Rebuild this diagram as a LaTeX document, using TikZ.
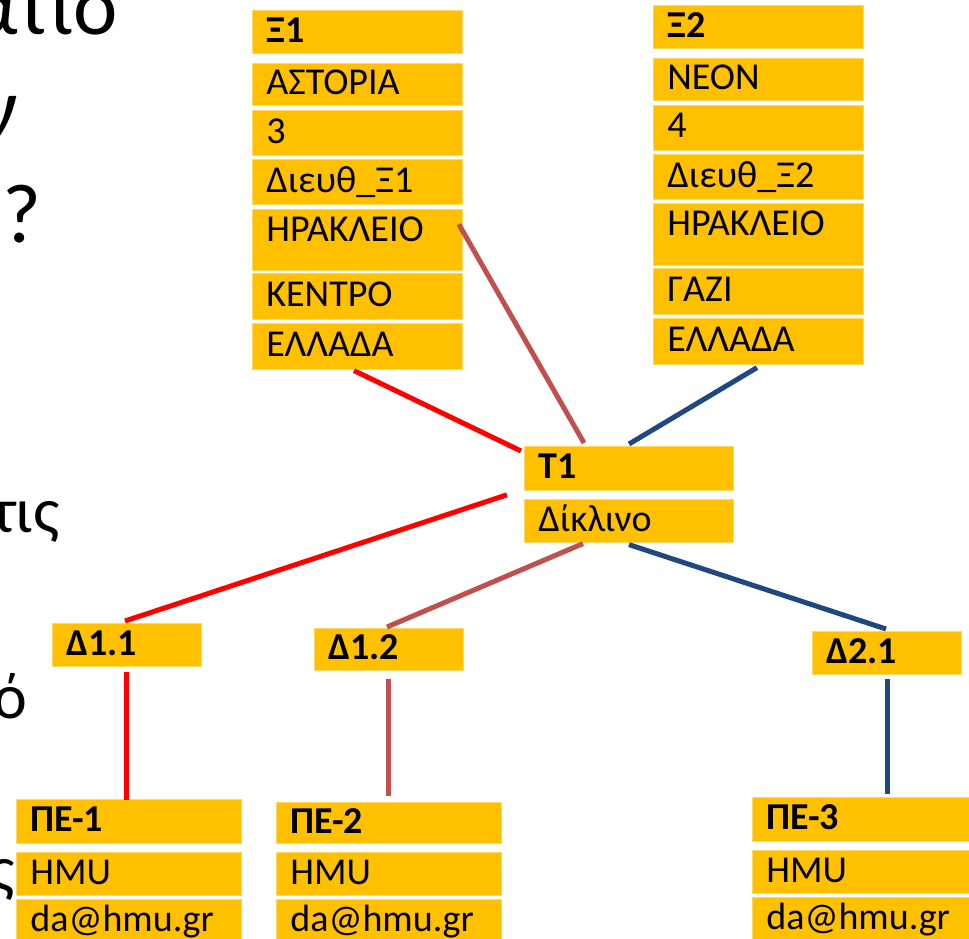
\documentclass[tikz,border=0pt]{standalone}
\usepackage{fontspec}
\setmainfont{Carlito}
\usepackage{tikz}
\usetikzlibrary{positioning,calc}
\definecolor{boxgold}{HTML}{FFC000}
\definecolor{boxedge}{HTML}{FFD966}
\definecolor{lred}{HTML}{FF0000}
\definecolor{lbrown}{HTML}{C0504D}
\definecolor{lblue}{HTML}{1F497D}

\begin{document}
\begin{tikzpicture}[x=1pt, y=-1pt,
    cell/.style={rectangle, draw=boxedge, line width=0.8pt, fill=boxgold, anchor=north west,
      inner xsep=14pt, inner ysep=0pt, minimum height=43pt, text height=27pt, text depth=6pt,
      align=left, text width=#1, font=\fontsize{38}{42}\selectfont},
    cell/.default=182pt,
    link/.style={line width=5pt},
    side/.style={anchor=base east, inner sep=0pt, font=\fontsize{84}{90}\selectfont},
  ]
  \useasboundingbox (0,0) rectangle (969,939);
  \clip (0,0) rectangle (969,939);

  % Slide text cut at the edge
  \node[side] (s1) at (118,35) {ατιο};
  \node[side] (s2) at (18,137) {ν};
  \node[side] (s3) at (42,242) {?};
  \node[side, font=\fontsize{64}{70}\selectfont] (s4) at (60,532) {τις};
  \node[side, font=\fontsize{64}{70}\selectfont] (s5) at (27,718) {ό};
  \node[side, font=\fontsize{64}{70}\selectfont] (s6) at (15,890) {ς};

  % Cells
  \node[cell] (xi1-1) at (252,10) {\textbf{Ξ1}};
  \node[cell, minimum height=42pt] (xi1-2) [below=9pt of xi1-1] {ΑΣΤΟΡΙΑ};
  \node[cell, minimum height=45pt] (xi1-3) [below=4pt of xi1-2] {3};
  \node[cell, minimum height=45pt] (xi1-4) [below=4pt of xi1-3] {Διευθ\_Ξ1};
  \node[cell, minimum height=61pt, text depth=24pt] (xi1-5) [below=4pt of xi1-4] {ΗΡΑΚΛΕΙΟ};
  \node[cell, minimum height=46pt] (xi1-6) [below=2pt of xi1-5] {ΚΕΝΤΡΟ};
  \node[cell, minimum height=46pt] (xi1-7) [below=3pt of xi1-6] {ΕΛΛΑΔΑ};

  \node[cell] (xi2-1) at (653,5) {\textbf{Ξ2}};
  \node[cell, minimum height=42pt] (xi2-2) [below=9pt of xi2-1] {ΝΕΟΝ};
  \node[cell, minimum height=45pt] (xi2-3) [below=4pt of xi2-2] {4};
  \node[cell, minimum height=45pt] (xi2-4) [below=4pt of xi2-3] {Διευθ\_Ξ2};
  \node[cell, minimum height=62pt, text depth=25pt] (xi2-5) [below=3pt of xi2-4] {ΗΡΑΚΛΕΙΟ};
  \node[cell, minimum height=46pt] (xi2-6) [below=2pt of xi2-5] {ΓΑΖΙ};
  \node[cell, minimum height=46pt] (xi2-7) [below=3pt of xi2-6] {ΕΛΛΑΔΑ};

  \node[cell=181pt, minimum height=44pt] (t1-1) at (524,446) {\textbf{T1}};
  \node[cell=181pt] (t1-2) [below=8pt of t1-1] {Δίκλινο};

  \node[cell=121pt] (d11) at (52,623) {\textbf{Δ1.1}};
  \node[cell=121pt, minimum height=42pt] (d12) at (314,628) {\textbf{Δ1.2}};
  \node[cell=121pt] (d21) at (812,631) {\textbf{Δ2.1}};

  \node[cell=197pt, minimum height=44pt] (pe1-1) at (16,799) {\textbf{ΠΕ-1}};
  \node[cell=197pt] (pe1-2) [below=8pt of pe1-1] {HMU};
  \node[cell=197pt] (pe1-3) [below=3pt of pe1-2] {da@hmu.gr};

  \node[cell=197pt, minimum height=41pt] (pe2-1) at (276,802) {\textbf{ΠΕ-2}};
  \node[cell=197pt] (pe2-2) [below=8pt of pe2-1] {HMU};
  \node[cell=197pt] (pe2-3) [below=3pt of pe2-2] {da@hmu.gr};

  \node[cell=197pt, minimum height=44pt] (pe3-1) at (752,797) {\textbf{ΠΕ-3}};
  \node[cell=197pt] (pe3-2) [below=8pt of pe3-1] {HMU};
  \node[cell=197pt] (pe3-3) [below=3pt of pe3-2] {da@hmu.gr};

  % Lines
  \draw[link, lred] ($(xi1-7.south west)+(102,1)$) -- ($(t1-1.north west)+(-3,5)$);
  \draw[link, lbrown] ($(xi1-5.north east)+(-4,15)$) -- ($(t1-1.north west)+(60,-3)$);
  \draw[link, lblue] ($(xi2-7.south west)+(104,3)$) -- ($(t1-1.north west)+(105,-2)$);
  \draw[link, lred] ($(t1-2.north west)+(-17,-4)$) -- ($(d11.north west)+(73,-2)$);
  \draw[link, lbrown] ($(t1-2.south west)+(59,1)$) -- ($(d12.north west)+(73,-1)$);
  \draw[link, lblue] ($(t1-2.south west)+(105,2)$) -- ($(d21.north west)+(74,-2)$);
  \draw[link, lred] ($(d11.south west)+(74,5)$) -- ($(pe1-1.north west)+(110,1)$);
  \draw[link, lbrown] ($(d12.south west)+(74,8)$) -- ($(pe2-1.north west)+(112,-6)$);
  \draw[link, lblue] ($(d21.south west)+(75,4)$) -- ($(pe3-1.north west)+(135,-3)$);
\end{tikzpicture}
\end{document}
